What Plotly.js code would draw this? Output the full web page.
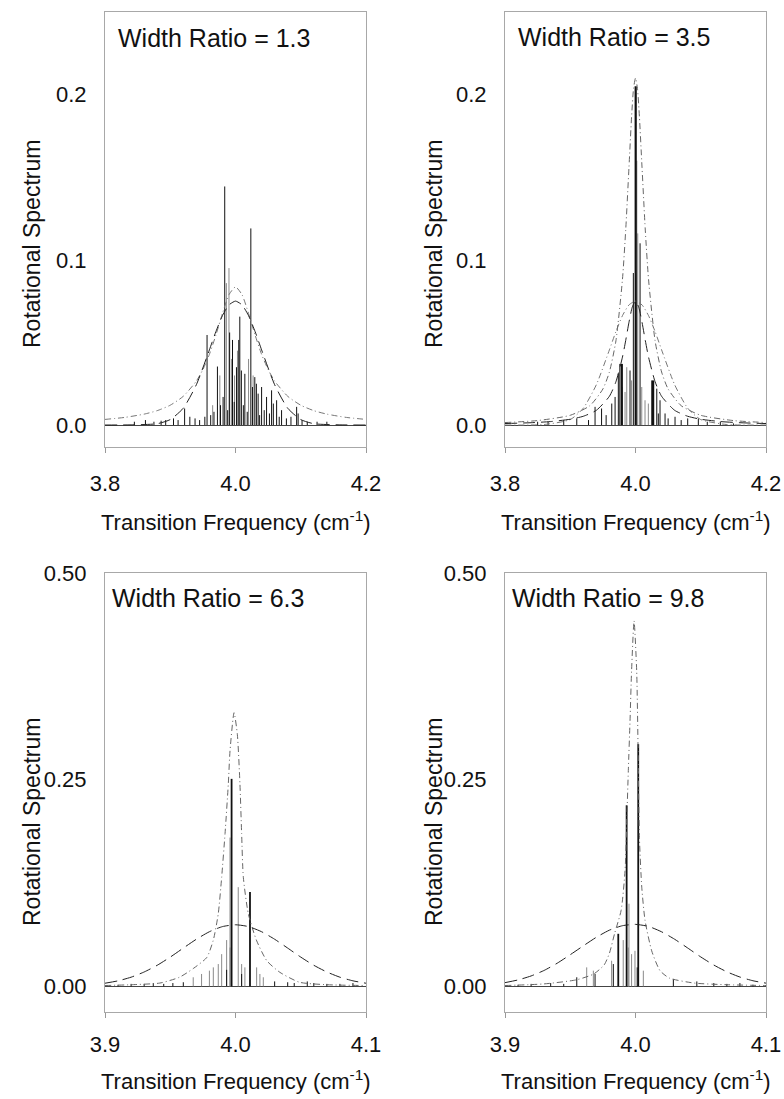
<!DOCTYPE html>
<html><head><meta charset="utf-8">
<script src="https://cdn.plot.ly/plotly-3.0.1.min.js"></script>
<style>html,body{margin:0;padding:0;background:#fff}#plot{width:784px;height:1099px}</style>
</head><body><div id="plot"></div>
<script>
// ---------- Panel labels / ticks ----------
const panelLabels = ["Width Ratio = 1.3", "Width Ratio = 3.5", "Width Ratio = 6.3", "Width Ratio = 9.8"];
const topXTicks = [3.8, 4.0, 4.2];
const topXText = ["3.8", "4.0", "4.2"];
const botXTicks = [3.9, 4.0, 4.1];
const botXText = ["3.9", "4.0", "4.1"];
const topYTicks = [0, 0.1, 0.2];
const topYText = ["0.0", "0.1", "0.2"];
const botYTicks = [0, 0.25, 0.5];
const botYText = ["0.00", "0.25", "0.50"];

// ---------- Panel 1 (ratio 1.3) ----------
const p1GaussX = [3.80,3.84,3.88,3.90,3.92,3.94,3.96,3.97,3.98,3.99,4.00,4.01,4.02,4.03,4.04,4.06,4.08,4.10,4.12,4.16,4.20];
const p1GaussY = [0.0000,0.0001,0.0008,0.0033,0.0102,0.0244,0.0455,0.0566,0.0662,0.0727,0.0750,0.0727,0.0662,0.0566,0.0455,0.0244,0.0102,0.0033,0.0008,0.0001,0.0000];
const p1LorX = [3.80,3.83,3.86,3.88,3.90,3.92,3.94,3.95,3.96,3.97,3.98,3.99,4.00,4.01,4.02,4.03,4.04,4.05,4.06,4.08,4.10,4.12,4.14,4.17,4.20];
const p1LorY = [0.0034,0.0046,0.0066,0.0087,0.0120,0.0174,0.0266,0.0336,0.0428,0.0545,0.0675,0.0789,0.0836,0.0789,0.0675,0.0545,0.0428,0.0336,0.0266,0.0174,0.0120,0.0087,0.0066,0.0046,0.0034];
const p1BlackX = [3.9564,3.9723,3.9810,3.9835,3.9910,3.9954,4.0015,4.0050,4.0066,4.0090,4.0143,4.0235,4.0260,4.0296,4.0320,4.0347,4.0400,4.0476,4.0553,4.0580,4.0630,4.0706,4.0937,4.0960,3.9220,3.9300,3.9530,
  3.845,3.862,3.875,3.886,3.893,3.905,3.912,3.938,3.945,3.962,3.967,3.977,3.988,3.998,4.012,4.018,4.037,4.044,4.052,4.067,4.078,4.085,4.102,4.110,4.125,4.140];
const p1BlackH = [0.0545,0.0354,0.017,0.1444,0.056,0.0515,0.035,0.0515,0.0656,0.033,0.031,0.119,0.023,0.029,0.025,0.019,0.023,0.017,0.021,0.013,0.015,0.009,0.011,0.007,0.010,0.005,0.005,
  0.002,0.003,0.002,0.0026,0.003,0.004,0.003,0.004,0.003,0.006,0.008,0.012,0.009,0.014,0.012,0.008,0.006,0.009,0.007,0.005,0.004,0.005,0.003,0.002,0.002,0.002];
const p1GrayX = [3.986,3.990,3.976,3.994,4.003,4.020,4.027,3.965,3.9985];
const p1GrayH = [0.0859,0.095,0.030,0.040,0.045,0.040,0.030,0.012,0.030];

// ---------- Panel 2 (ratio 3.5) ----------
const p2GaussX = [3.80,3.86,3.90,3.92,3.94,3.96,3.97,3.98,3.99,4.00,4.01,4.02,4.03,4.04,4.06,4.08,4.10,4.14,4.20];
const p2GaussY = [0.0,0.0003,0.0033,0.0102,0.0244,0.0455,0.0566,0.0662,0.0727,0.075,0.0727,0.0662,0.0566,0.0455,0.0244,0.0102,0.0033,0.0003,0.0];
const p2MidX = [3.80,3.84,3.87,3.90,3.92,3.94,3.96,3.97,3.98,3.985,3.99,3.995,4.00,4.005,4.01,4.015,4.02,4.03,4.04,4.06,4.08,4.10,4.13,4.16,4.20];
const p2MidY = [0.0009,0.0014,0.0021,0.0035,0.0053,0.0089,0.0174,0.0262,0.0411,0.0512,0.0622,0.0713,0.075,0.0713,0.0622,0.0512,0.0411,0.0262,0.0174,0.0089,0.0053,0.0035,0.0021,0.0014,0.0009];
const p2NarX = [3.80,3.85,3.90,3.93,3.95,3.96,3.97,3.98,3.985,3.99,3.994,3.997,4.00,4.003,4.006,4.01,4.015,4.02,4.03,4.04,4.05,4.07,4.10,4.15,4.20];
const p2NarY = [0.0015,0.0027,0.0059,0.0117,0.0218,0.0321,0.0510,0.0881,0.118,0.156,0.1867,0.2037,0.21,0.2037,0.1867,0.156,0.118,0.0881,0.0510,0.0321,0.0218,0.0117,0.0059,0.0027,0.0015];
const p2BlackX = [3.9967,4.0070,3.9760,3.9737,3.9790,3.9916,3.9687,3.9636,3.9480,3.9380,4.0249,4.0274,4.0326,4.0376,4.0350,4.0453,4.0606,4.0963,3.9280,3.8660,
  3.85,3.89,3.91,3.955,4.05,4.07,4.08,4.11,4.13,4.15];
const p2BlackH = [0.092,0.110,0.037,0.031,0.023,0.033,0.017,0.013,0.010,0.011,0.027,0.023,0.022,0.015,0.007,0.007,0.005,0.004,0.003,0.002,
  0.002,0.003,0.004,0.006,0.004,0.003,0.004,0.002,0.002,0.001];
const p2ThickX = [4.0003, 3.9790, 4.0270];
const p2ThickH = [0.205, 0.037, 0.027];
const p2GrayX = [4.0034,3.9866,3.9940,4.0096,4.0146,4.0197,4.0020,3.9840];
const p2GrayH = [0.116,0.035,0.027,0.023,0.015,0.013,0.160,0.020];

// ---------- Panel 3 (ratio 6.3) ----------
const p3GaussX = [3.90,3.91,3.92,3.93,3.94,3.95,3.96,3.97,3.98,3.99,4.00,4.01,4.02,4.03,4.04,4.05,4.06,4.07,4.08,4.09,4.10];
const p3GaussY = [0.0038,0.0067,0.0111,0.0174,0.0255,0.0354,0.0463,0.0570,0.0661,0.0723,0.0745,0.0723,0.0661,0.0570,0.0463,0.0354,0.0255,0.0174,0.0111,0.0067,0.0038];
const p3NarX = [3.900,3.920,3.942,3.957,3.968,3.978,3.983,3.9868,3.9894,3.992,3.9945,3.9958,3.9989,4.0014,4.0034,4.0047,4.006,4.0098,4.016,4.024,4.034,4.049,4.070,4.100];
const p3NarY = [0.001,0.002,0.004,0.011,0.022,0.035,0.056,0.088,0.132,0.185,0.245,0.285,0.331,0.305,0.245,0.185,0.132,0.088,0.056,0.031,0.017,0.005,0.002,0.001];
const p3ThickX = [3.9970, 4.0111];
const p3ThickH = [0.251, 0.114];
const p3BlackX = [3.91,3.92,3.93,3.937,3.945,3.952,3.96,4.03,4.04,4.045,4.055,4.06,4.07,4.08,4.09,3.9932,4.0047];
const p3BlackH = [0.002,0.003,0.003,0.004,0.003,0.004,0.005,0.006,0.005,0.004,0.006,0.004,0.003,0.003,0.004,0.020,0.015];
const p3GrayX = [3.9958,4.0021,3.9932,3.9958,3.9894,3.9868,3.983,3.980,4.0047,4.0072,4.0162,4.0187,4.0213,3.974,3.9676];
const p3GrayH = [0.18,0.12,0.056,0.047,0.039,0.027,0.023,0.019,0.027,0.023,0.023,0.015,0.011,0.015,0.011];

// ---------- Panel 4 (ratio 9.8) ----------
const p4GaussX = [3.90,3.91,3.92,3.93,3.94,3.95,3.96,3.97,3.98,3.99,4.00,4.01,4.02,4.03,4.04,4.05,4.06,4.07,4.08,4.09,4.10];
const p4GaussY = [0.0045,0.0078,0.0126,0.0193,0.0280,0.0383,0.0490,0.0594,0.0680,0.0734,0.0750,0.0725,0.0660,0.0570,0.0464,0.0356,0.0258,0.0176,0.0113,0.0068,0.0039];
const p4NarX = [3.900,3.930,3.955,3.968,3.976,3.980,3.984,3.989,3.992,3.9933,3.9945,3.9958,3.997,3.9989,4.0009,4.0022,4.003,4.0048,4.0073,4.0124,4.0188,4.026,4.045,4.070,4.100];
const p4NarY = [0.001,0.003,0.008,0.015,0.026,0.040,0.064,0.092,0.140,0.200,0.261,0.321,0.382,0.442,0.382,0.261,0.180,0.120,0.080,0.043,0.019,0.010,0.004,0.002,0.001];
const p4ThickX = [3.9932, 4.0021, 3.9868];
const p4ThickH = [0.219, 0.293, 0.0636];
const p4BlackX = [3.9830,4.0013,3.955,3.969,4.029,4.047,3.91,3.92,3.935,3.945,4.06,4.07,4.08,4.09];
const p4BlackH = [0.027,0.023,0.011,0.015,0.009,0.006,0.002,0.003,0.004,0.003,0.004,0.003,0.004,0.002];
const p4GrayX = [3.9626,3.9677,3.9906,3.9945,3.997,3.9996,4.006,3.9817,3.995];
const p4GrayH = [0.023,0.019,0.056,0.047,0.039,0.043,0.019,0.031,0.10];

// ---------- helpers ----------
function sticks(xs, hs, xa, ya, color, width) {
  const x = [], y = [];
  xs.forEach((v, i) => { x.push(v, v, null); y.push(0, hs[i], null); });
  return {x, y, xaxis: xa, yaxis: ya, mode: 'lines', type: 'scatter', hoverinfo: 'skip',
          line: {color, width}, showlegend: false};
}
function curve(xs, ys, xa, ya, color, dash, width) {
  return {x: xs, y: ys, xaxis: xa, yaxis: ya, mode: 'lines', type: 'scatter', hoverinfo: 'skip',
          line: {color, dash, width: width || 1, shape: 'spline', smoothing: 0.6}, showlegend: false};
}
const LD = '12px,6px';
const DD = '6px,3px,1px,3px';

const traces = [
  sticks(p1GrayX, p1GrayH, 'x', 'y', '#8a8a8a', 1),
  sticks(p1BlackX, p1BlackH, 'x', 'y', '#111', 1),
  curve(p1LorX, p1LorY, 'x', 'y', '#777', DD, 1),
  curve(p1GaussX, p1GaussY, 'x', 'y', '#222', LD, 1),

  sticks(p2GrayX, p2GrayH, 'x2', 'y2', '#8a8a8a', 1),
  sticks(p2BlackX, p2BlackH, 'x2', 'y2', '#111', 1),
  sticks(p2ThickX, p2ThickH, 'x2', 'y2', '#111', 2.2),
  curve(p2GaussX, p2GaussY, 'x2', 'y2', '#777', DD, 1),
  curve(p2MidX, p2MidY, 'x2', 'y2', '#222', LD, 1),
  curve(p2NarX, p2NarY, 'x2', 'y2', '#666', DD, 1),

  sticks(p3GrayX, p3GrayH, 'x3', 'y3', '#8a8a8a', 1),
  sticks(p3BlackX, p3BlackH, 'x3', 'y3', '#111', 1),
  sticks(p3ThickX, p3ThickH, 'x3', 'y3', '#111', 1.8),
  curve(p3NarX, p3NarY, 'x3', 'y3', '#666', DD, 1),
  curve(p3GaussX, p3GaussY, 'x3', 'y3', '#222', LD, 1),

  sticks(p4GrayX, p4GrayH, 'x4', 'y4', '#8a8a8a', 1),
  sticks(p4BlackX, p4BlackH, 'x4', 'y4', '#111', 1),
  sticks(p4ThickX, p4ThickH, 'x4', 'y4', '#111', 1.8),
  curve(p4NarX, p4NarY, 'x4', 'y4', '#666', DD, 1),
  curve(p4GaussX, p4GaussY, 'x4', 'y4', '#222', LD, 1)
];

const FONT = 'Liberation Sans, Arial, sans-serif';
const W = 784, H = 1099;
const leftDom = [105/W, 366/W], rightDom = [505/W, 766/W];
const topDom = [(H-447)/H, (H-12)/H], botDom = [(H-1012)/H, (H-573)/H];

function xax(dom, range, tv, tt, anchor, standoff) {
  return {domain: dom, range, anchor, tickvals: tv, ticktext: tt, showline: true, mirror: true,
    linecolor: '#a8a8a8', linewidth: 1, ticks: 'outside', ticklen: 5, tickcolor: '#999',
    showgrid: false, zeroline: false, ticklabelstandoff: standoff,
    tickfont: {family: FONT, size: 22, color: '#111'}, fixedrange: true};
}
function yax(dom, range, tv, tt, anchor) {
  return {domain: dom, range, anchor, tickvals: tv, ticktext: tt, showline: true, mirror: true,
    linecolor: '#a8a8a8', linewidth: 1, ticks: '', showgrid: false,
    zeroline: true, zerolinecolor: '#444', zerolinewidth: 1, ticklabelstandoff: 13,
    tickfont: {family: FONT, size: 22, color: '#111'}, fixedrange: true};
}

const ann = [];
function txt(text, px, py, opts) {
  ann.push(Object.assign({text, x: px / W, y: 1 - py / H, xref: 'paper', yref: 'paper',
    showarrow: false, font: {family: FONT, size: 22, color: '#111'}}, opts || {}));
}
const LBL = {family: FONT, size: 25, color: '#111'};
txt(panelLabels[0], 116, 38, {xanchor: 'left', yanchor: 'middle', font: LBL});
txt(panelLabels[1], 516, 37, {xanchor: 'left', yanchor: 'middle', font: LBL});
txt(panelLabels[2], 110, 598, {xanchor: 'left', yanchor: 'middle', font: LBL});
txt(panelLabels[3], 510, 598, {xanchor: 'left', yanchor: 'middle', font: LBL});
const xt = 'Transition Frequency (cm<sup>-1</sup>)';
txt(xt, 236, 521, {xanchor: 'center', yanchor: 'middle'});
txt(xt, 636, 521, {xanchor: 'center', yanchor: 'middle'});
txt(xt, 236, 1080, {xanchor: 'center', yanchor: 'middle'});
txt(xt, 636, 1080, {xanchor: 'center', yanchor: 'middle'});
const yt = 'Rotational Spectrum';
const YTF = {family: FONT, size: 23, color: '#111'};
txt(yt, 32, 244, {textangle: -90, xanchor: 'center', yanchor: 'middle', font: YTF});
txt(yt, 434, 244, {textangle: -90, xanchor: 'center', yanchor: 'middle', font: YTF});
txt(yt, 32, 822, {textangle: -90, xanchor: 'center', yanchor: 'middle', font: YTF});
txt(yt, 434, 822, {textangle: -90, xanchor: 'center', yanchor: 'middle', font: YTF});

const layout = {
  width: W, height: H, margin: {l: 0, r: 0, t: 0, b: 0},
  paper_bgcolor: '#fff', plot_bgcolor: '#fff', showlegend: false,
  font: {family: FONT, color: '#111'},
  xaxis: xax(leftDom, [3.8, 4.2], topXTicks, topXText, 'y', 12),
  yaxis: yax(topDom, [-0.0133, 0.25], topYTicks, topYText, 'x'),
  xaxis2: xax(rightDom, [3.8, 4.2], topXTicks, topXText, 'y2', 12),
  yaxis2: yax(topDom, [-0.0133, 0.25], topYTicks, topYText, 'x2'),
  xaxis3: xax(leftDom, [3.9, 4.1], botXTicks, botXText, 'y3', 8),
  yaxis3: yax(botDom, [-0.031, 0.5], botYTicks, botYText, 'x3'),
  xaxis4: xax(rightDom, [3.9, 4.1], botXTicks, botXText, 'y4', 8),
  yaxis4: yax(botDom, [-0.031, 0.5], botYTicks, botYText, 'x4'),
  annotations: ann
};
Plotly.newPlot('plot', traces, layout, {staticPlot: true, displayModeBar: false});
</script></body></html>
